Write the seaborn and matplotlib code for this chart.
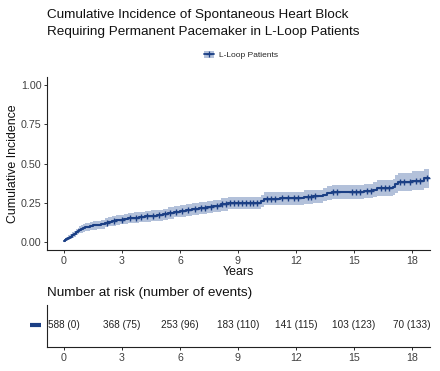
import numpy as np
import pandas as pd
import matplotlib
matplotlib.use("Agg")
import matplotlib.pyplot as plt
import matplotlib.transforms as mtransforms
from matplotlib.lines import Line2D
from matplotlib.patches import Patch
import seaborn as sns

# ---------------- data ----------------
step_times = [0, 0.05, 0.1, 0.2, 0.3, 0.4, 0.5, 0.6, 0.7, 0.8, 0.9, 1.0, 1.1, 1.2,
              1.35, 1.5, 1.7, 1.9, 2.1, 2.3, 2.5, 2.7, 2.9, 3.1, 3.3, 3.6, 3.9, 4.2,
              4.5, 4.8, 5.1, 5.4, 5.7, 6.0, 6.3, 6.6, 7.0, 7.4, 7.7, 8.1, 8.5, 10.2,
              10.35, 11.2, 12.4, 12.9, 13.4, 13.6, 13.85, 15.5, 16.0, 16.2, 17.0,
              17.1, 17.3, 18.0, 18.6, 18.9]
step_values = [0.010, 0.015, 0.020, 0.028, 0.036, 0.045, 0.055, 0.064, 0.072, 0.078,
               0.084, 0.090, 0.095, 0.099, 0.104, 0.107, 0.110, 0.115, 0.124, 0.130,
               0.136, 0.140, 0.144, 0.148, 0.152, 0.156, 0.160, 0.164, 0.168, 0.172,
               0.178, 0.186, 0.194, 0.200, 0.206, 0.212, 0.218, 0.224, 0.230, 0.240,
               0.250, 0.262, 0.275, 0.280, 0.287, 0.292, 0.302, 0.312, 0.320, 0.325,
               0.335, 0.345, 0.352, 0.370, 0.380, 0.392, 0.405, 0.405]
ci_half = [0.009, 0.011, 0.013, 0.015, 0.017, 0.018, 0.019, 0.020, 0.021, 0.022,
           0.023, 0.024, 0.025, 0.026, 0.026, 0.027, 0.027, 0.028, 0.029, 0.030,
           0.030, 0.031, 0.031, 0.032, 0.032, 0.033, 0.033, 0.034, 0.034, 0.035,
           0.035, 0.036, 0.036, 0.037, 0.037, 0.038, 0.038, 0.039, 0.039, 0.040,
           0.040, 0.041, 0.041, 0.042, 0.042, 0.043, 0.043, 0.044, 0.044, 0.045,
           0.047, 0.049, 0.051, 0.055, 0.057, 0.059, 0.061, 0.061]
censor_times = [2.2, 2.6, 3.0, 3.4, 3.7, 4.0, 4.3, 4.6, 4.9, 5.2, 5.5, 5.8, 6.1, 6.4,
                6.8, 7.1, 7.3, 7.6, 7.9, 8.2, 8.4, 8.6, 8.8, 9.0, 9.2, 9.4, 9.6, 9.8,
                10.0, 10.5, 10.7, 10.9, 11.3, 11.6, 11.9, 12.1, 12.6, 12.8, 13.0,
                13.9, 14.1, 14.9, 15.1, 15.3, 15.7, 15.9, 16.4, 16.6, 16.8, 17.4,
                17.6, 17.9, 18.2, 18.4, 18.8]
risk_times = [0, 3, 6, 9, 12, 15, 18]
risk_at = [588, 368, 253, 183, 141, 103, 70]
risk_events = [0, 75, 96, 110, 115, 123, 133]
group_name = "L-Loop Patients"

# ---------------- styling ----------------
sns.set_theme(style="ticks")
plt.rcParams["font.family"] = ["Liberation Sans", "DejaVu Sans"]
LINE = "#1B3F85"
BAND = "#B3C1DA"
TXT = "#404040"
TITLE_FS = 9.7

df = pd.DataFrame({"time": step_times, "ci": step_values})
df["lo"] = np.array(step_values) - np.array(ci_half)
df["hi"] = np.array(step_values) + np.array(ci_half)
cens = pd.DataFrame({"time": censor_times})
idx = np.searchsorted(np.array(step_times), cens["time"].values, side="right") - 1
cens["ci"] = np.array(step_values)[idx]

fig = plt.figure(figsize=(4.4, 3.71), dpi=100)
ax = fig.add_axes([0.1068, 0.326, 0.8702, 0.4663])
ax.fill_between(df["time"], df["lo"], df["hi"], step="post", color=BAND, lw=0)
sns.lineplot(data=df, x="time", y="ci", drawstyle="steps-post", color=LINE,
             lw=1.5, estimator=None, ax=ax, legend=False)
sns.scatterplot(data=cens, x="time", y="ci", marker="+", s=24, color=LINE,
                linewidth=1.0, ax=ax, legend=False, zorder=4)

ax.set_xlim(-0.88, 18.93)
ax.set_ylim(-0.05, 1.05)
ax.set_xticks(risk_times)
ax.set_yticks([0, 0.25, 0.5, 0.75, 1.0])
ax.set_yticklabels(["0.00", "0.25", "0.50", "0.75", "1.00"])
ax.tick_params(labelsize=7.7, colors="#333333", labelcolor=TXT, length=2.5, width=0.7, pad=1.5)
for s in ("top", "right"):
    ax.spines[s].set_visible(False)
for s in ("left", "bottom"):
    ax.spines[s].set_linewidth(0.8)
    ax.spines[s].set_color("#222222")
ax.set_xlabel("Years", fontsize=8.9, labelpad=0, color="#111111")
ax.set_ylabel("Cumulative Incidence", fontsize=8.9, labelpad=1.5, color="#111111")

fig.text(0.1068, 1 - 15 / 371, "Cumulative Incidence of Spontaneous Heart Block",
         fontsize=TITLE_FS, va="center", ha="left", color="#111111")
fig.text(0.1068, 1 - 32 / 371, "Requiring Permanent Pacemaker in L-Loop Patients",
         fontsize=TITLE_FS, va="center", ha="left", color="#111111")

# legend
handle = (Patch(facecolor=BAND, edgecolor="none"),
          Line2D([], [], color=LINE, lw=1.3, marker="+", ms=5, mew=0.9))
fig.legend([handle], [group_name], loc="center", bbox_to_anchor=(0.548, 1 - 55 / 371),
           frameon=False, fontsize=6.0, handlelength=1.2, handleheight=1.0,
           handletextpad=0.6, borderpad=0)

# risk table
rax = fig.add_axes([0.1068, 0.0647, 0.8702, 0.1133])
rax.set_xlim(-0.88, 18.93)
rax.set_ylim(0, 1)
for t, n, e in zip(risk_times, risk_at, risk_events):
    rax.text(t, 0.52, f"{n} ({e})", ha="center", va="center", fontsize=7.2, color="#222222")
rax.set_xticks(risk_times)
rax.set_yticks([])
rax.tick_params(labelsize=7.7, labelcolor=TXT, length=2.5, width=0.7, pad=1.5)
for s in ("top", "right"):
    rax.spines[s].set_visible(False)
for s in ("left", "bottom"):
    rax.spines[s].set_linewidth(0.8)
    rax.spines[s].set_color("#222222")
trans = mtransforms.blended_transform_factory(fig.transFigure, rax.transData)
rax.plot([30 / 440, 41 / 440], [0.52, 0.52], color=LINE, lw=3, transform=trans,
         clip_on=False, solid_capstyle="butt")
fig.text(0.1068, 1 - 293 / 371, "Number at risk (number of events)", fontsize=TITLE_FS,
         va="center", ha="left", color="#111111")

fig.savefig("out.png", dpi=100)
